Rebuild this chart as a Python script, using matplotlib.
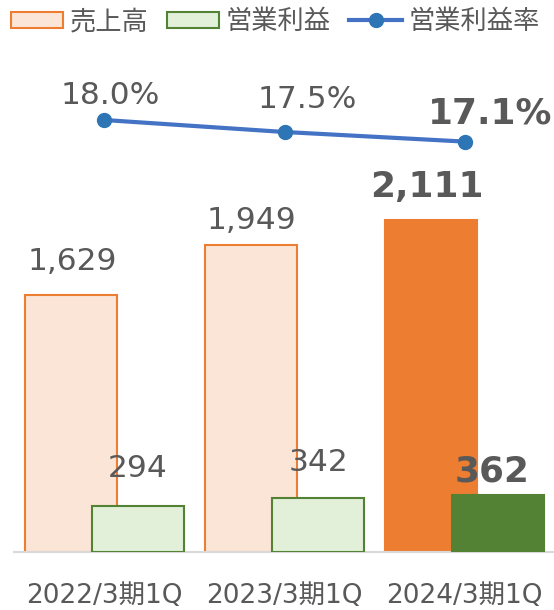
import matplotlib
matplotlib.use("Agg")
import matplotlib.pyplot as plt
from matplotlib.patches import Patch
from matplotlib.lines import Line2D
import numpy as np

plt.rcParams["font.family"] = ["DejaVu Sans", "Noto Sans CJK JP"]

# data
periods = ["2022/3期1Q", "2023/3期1Q", "2024/3期1Q"]
sales = [1629, 1949, 2111]
profit = [294, 342, 362]
margin = [18.0, 17.5, 17.1]

# colours
GRAY = "#595959"
ORANGE = "#ED7D31"
ORANGE_LIGHT = "#FBE5D6"
GREEN = "#548235"
GREEN_LIGHT = "#E2F0D9"
BLUE = "#4472C4"

fig = plt.figure(figsize=(5.54, 6.10), dpi=100)
ax = fig.add_axes([14 / 554, 1 - 552 / 610, 541 / 554, 512 / 610])

x = np.arange(len(periods))
w = 0.51
off = 0.185

sales_fc = [ORANGE_LIGHT, ORANGE_LIGHT, ORANGE]
profit_fc = [GREEN_LIGHT, GREEN_LIGHT, GREEN]
ax.bar(x - off, sales, w, color=sales_fc, edgecolor=ORANGE, linewidth=1.5, zorder=2)
ax.bar(x + off, profit, w, color=profit_fc, edgecolor=GREEN, linewidth=1.5, zorder=3)

ax.set_xlim(-0.5, 2.5)
ax.set_ylim(0, 3251)
ax.set_yticks([])
ax.set_xticks(x)
ax.set_xticklabels(periods, fontsize=19, color=GRAY)
ax.tick_params(axis="x", length=0, pad=22)
for s in ["top", "left", "right"]:
    ax.spines[s].set_visible(False)
ax.spines["bottom"].set_color("#D9D9D9")
ax.spines["bottom"].set_linewidth(1.5)

NORMAL_FS = 22.5
BOLD_FS = 25.8

# bar labels (offsets in pixels)
sales_off = [(2, 34), (0, 25), (-5, 33)]
profit_off = [(0, 37), (1, 36), (-6, 23)]
for i in range(len(x)):
    bold = i == len(x) - 1
    ax.annotate(f"{sales[i]:,}", (x[i] - off, sales[i]), xytext=sales_off[i],
                textcoords="offset pixels", ha="center", va="center",
                fontsize=BOLD_FS if bold else NORMAL_FS, color=GRAY,
                fontweight="bold" if bold else "normal", zorder=5)
    ax.annotate(f"{profit[i]:,}", (x[i] + off, profit[i]), xytext=profit_off[i],
                textcoords="offset pixels", ha="center", va="center",
                fontsize=BOLD_FS if bold else NORMAL_FS, color=GRAY,
                fontweight="bold" if bold else "normal", zorder=5)

ax2 = ax.twinx()
ax2.set_ylim(0, 512 / 24)
ax2.plot(x, margin, color=BLUE, linewidth=3, marker="o", markersize=10,
         markerfacecolor="#2E75B6", markeredgecolor="#2E75B6", zorder=4)
ax2.set_yticks([])
for s in ["top", "left", "right", "bottom"]:
    ax2.spines[s].set_visible(False)

margin_off = [(6, 24), (23, 32), (25, 28)]
for i in range(len(x)):
    bold = i == len(x) - 1
    ax2.annotate(f"{margin[i]:.1f}%", (x[i], margin[i]), xytext=margin_off[i],
                 textcoords="offset pixels", ha="center", va="center",
                 fontsize=BOLD_FS if bold else NORMAL_FS, color=GRAY,
                 fontweight="bold" if bold else "normal")

handles = [
    Patch(facecolor=ORANGE_LIGHT, edgecolor=ORANGE, linewidth=1.5, label="売上高"),
    Patch(facecolor=GREEN_LIGHT, edgecolor=GREEN, linewidth=1.5, label="営業利益"),
    Line2D([0], [0], color=BLUE, linewidth=3, marker="o", markersize=10,
           markerfacecolor="#2E75B6", markeredgecolor="#2E75B6", label="営業利益率"),
]
leg = fig.legend(handles=handles, loc="upper left", bbox_to_anchor=(0.01, 1 - 4 / 610),
                 ncol=3, frameon=False, fontsize=18.9, handlelength=2.0,
                 handleheight=0.6, handletextpad=0.25, columnspacing=0.7,
                 borderaxespad=0.05, borderpad=0.15)
for t in leg.get_texts():
    t.set_color(GRAY)

fig.savefig("out.png", dpi=100)
